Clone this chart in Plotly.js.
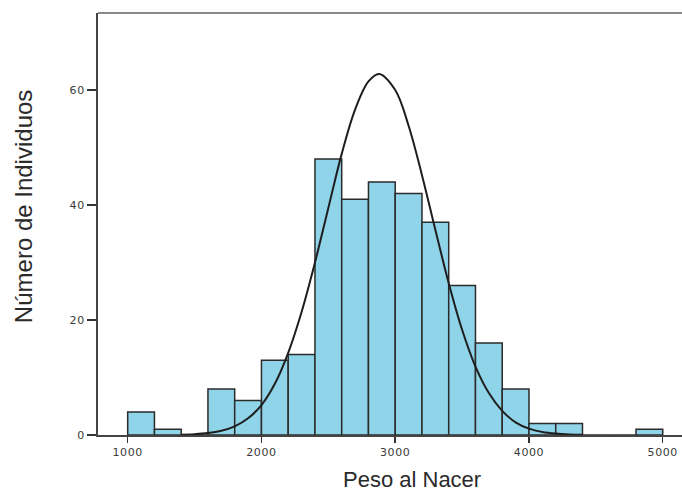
<!DOCTYPE html>
<html>
<head>
<meta charset="utf-8">
<script src="https://cdn.plot.ly/plotly-3.0.1.min.js"></script>
<style>html,body{margin:0;padding:0;background:#fff;}#chart{width:682px;height:492px;}
.xtick text,.ytick text{letter-spacing:0.6px;}</style>
</head>
<body>
<div id="chart"></div>
<script>
// Histogram bins (start of each 200 g bin) and counts
const binStarts = [1000,1200,1400,1600,1800,2000,2200,2400,2600,2800,3000,3200,3400,3600,3800,4000,4200,4400,4600,4800];
const counts    = [4,   1,   0,   8,   6,   13,  14,  48,  41,  44,  42,  37,  26,  16,  8,   2,   2,   0,   0,   1];
const binWidth = 200;

// Normal curve
const curveX = [1400,1500,1600,1700,1800,1900,2000,2100,2200,2300,2400,2500,2600,2700,2800,2880,3000,3100,3200,3300,3400,3500,3600,3700,3800,3900,4000,4100,4200,4300,4400];
const curveY = [0.06,0.14,0.33,0.73,1.5,2.9,5.2,8.9,14.3,21.4,30.0,39.5,48.9,56.6,61.5,62.8,60.0,53.8,45.2,35.7,26.4,18.3,11.9,7.3,4.2,2.2,1.1,0.53,0.24,0.1,0.04];

const xTicks = [1000,2000,3000,4000,5000];
const yTicks = [0,20,40,60];
const xTitle = 'Peso al Nacer';
const yTitle = 'Número de Individuos';

const bars = {
  type: 'bar',
  x: binStarts,
  y: counts,
  width: binWidth,
  offset: 0,
  marker: {color: '#8fd4e8', line: {color: '#2b2b2b', width: 1.5}},
  hoverinfo: 'x+y'
};
const curve = {
  type: 'scatter',
  mode: 'lines',
  x: curveX,
  y: curveY,
  line: {color: '#1e1e1e', width: 2, shape: 'spline'},
  hoverinfo: 'skip'
};

const tickFont = {family: 'DejaVu Sans, sans-serif', size: 11, color: '#3a3a3a'};
const titleFont = {family: 'Liberation Sans, Arial, sans-serif', color: '#2a2a2a'};

const layout = {
  width: 682, height: 492,
  margin: {l: 98, r: 0, t: 13, b: 57},
  paper_bgcolor: '#ffffff',
  plot_bgcolor: '#ffffff',
  showlegend: false,
  bargap: 0,
  xaxis: {
    range: [778, 5144],
    tickvals: xTicks,
    ticktext: xTicks.map(String),
    ticks: 'outside', ticklen: 6, tickwidth: 1.5, tickcolor: '#333',
    showline: true, linecolor: '#444', linewidth: 2, mirror: false,
    showgrid: false, zeroline: false,
    tickfont: tickFont
  },
  yaxis: {
    range: [0, 73.4],
    tickvals: yTicks,
    ticktext: yTicks.map(String),
    ticks: 'outside', ticklen: 9, tickwidth: 1.5, tickcolor: '#333',
    showline: true, linecolor: '#444', linewidth: 2,
    showgrid: false, zeroline: false,
    tickfont: tickFont
  },
  annotations: [
    {text: xTitle, xref: 'paper', yref: 'paper', x: 0.5377, y: -0.1055,
     xanchor: 'center', yanchor: 'middle', showarrow: false,
     font: Object.assign({size: 22}, titleFont)},
    {text: yTitle, xref: 'paper', yref: 'paper', x: -0.1284, y: 0.54,
     xanchor: 'center', yanchor: 'middle', showarrow: false, textangle: -90,
     font: Object.assign({size: 24}, titleFont)}
  ],
  shapes: [{
    type: 'line', xref: 'paper', yref: 'paper', x0: 0, x1: 1, y0: 1, y1: 1,
    line: {color: '#888', width: 2}
  }]
};

Plotly.newPlot('chart', [bars, curve], layout, {displayModeBar: false, staticPlot: true});
</script>
</body>
</html>
